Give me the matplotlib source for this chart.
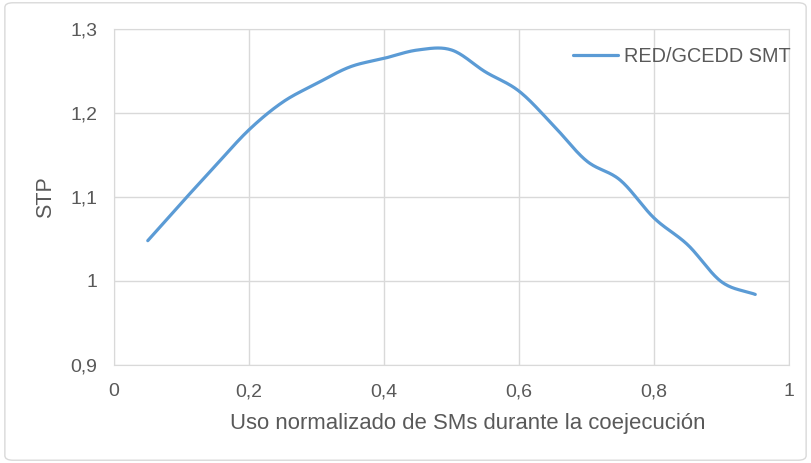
import numpy as np
import matplotlib
matplotlib.use("Agg")
import matplotlib.pyplot as plt
from matplotlib.patches import FancyBboxPatch

plt.rcParams['font.family'] = ['Liberation Sans', 'DejaVu Sans']

# Data
x_vals = [0.05, 0.10, 0.15, 0.20, 0.25, 0.30, 0.35, 0.40, 0.45, 0.50,
          0.55, 0.60, 0.65, 0.70, 0.75, 0.80, 0.85, 0.90, 0.95]
stp_vals = [1.048, 1.093, 1.137, 1.180, 1.213, 1.235, 1.255, 1.265, 1.275, 1.275,
            1.249, 1.226, 1.186, 1.143, 1.120, 1.075, 1.043, 0.999, 0.984]
series_name = "RED/GCEDD SMT"
x_ticks = [0, 0.2, 0.4, 0.6, 0.8, 1]
x_tick_labels = ["0", "0,2", "0,4", "0,6", "0,8", "1"]
y_ticks = [0.9, 1.0, 1.1, 1.2, 1.3]
y_tick_labels = ["0,9", "1", "1,1", "1,2", "1,3"]
x_label = "Uso normalizado de SMs durante la coejecución"
y_label = "STP"


def smooth(xs, ys, n=30):
    # Catmull-Rom style smoothing for drawing (Excel "smoothed line")
    xs = np.asarray(xs, float)
    ys = np.asarray(ys, float)
    px = np.concatenate([[2 * xs[0] - xs[1]], xs, [2 * xs[-1] - xs[-2]]])
    py = np.concatenate([[2 * ys[0] - ys[1]], ys, [2 * ys[-1] - ys[-2]]])
    ox, oy = [], []
    t = np.linspace(0, 1, n, endpoint=False)
    for i in range(1, len(px) - 2):
        p0, p1, p2, p3 = (np.array([px[j], py[j]]) for j in (i - 1, i, i + 1, i + 2))
        c1 = p1 + (p2 - p0) / 6
        c2 = p2 - (p3 - p1) / 6
        pts = ((1 - t) ** 3)[:, None] * p1 + (3 * (1 - t) ** 2 * t)[:, None] * c1 \
            + (3 * (1 - t) * t ** 2)[:, None] * c2 + (t ** 3)[:, None] * p2
        ox.extend(pts[:, 0]); oy.extend(pts[:, 1])
    ox.append(xs[-1]); oy.append(ys[-1])
    return np.array(ox), np.array(oy)


fig = plt.figure(figsize=(8.11, 4.63), dpi=100)
fig.patch.set_facecolor('white')
border = FancyBboxPatch((0.006, 0.006), 0.988, 0.988, boxstyle="round,pad=0,rounding_size=0.01",
                        transform=fig.transFigure, fill=False, edgecolor='#d9d9d9', lw=1.0)
fig.patches.append(border)

ax = fig.add_axes([0.1406, 0.2117, 0.8323, 0.7257])
sx, sy = smooth(x_vals, stp_vals)
ax.plot(sx, sy, color='#5b9bd5', lw=2.3, label=series_name, solid_capstyle='round')

ax.set_xlim(0, 1)
ax.set_ylim(0.9, 1.3)
ax.set_xticks(x_ticks)
ax.set_xticklabels(x_tick_labels)
ax.set_yticks(y_ticks)
ax.set_yticklabels(y_tick_labels)
ax.grid(True, color='#d9d9d9', lw=1.0)
ax.set_axisbelow(True)
for s in ax.spines.values():
    s.set_color('#d9d9d9')
ax.tick_params(length=0, labelsize=14, colors='#595959')
ax.tick_params(axis='x', pad=13)
ax.tick_params(axis='y', pad=12)
ax.set_xlabel(x_label, fontsize=15.9, color='#595959')
ax.xaxis.set_label_coords(0.5244, -0.143)
ax.set_ylabel(y_label, fontsize=15.5, color='#595959', labelpad=10)

leg = ax.legend(loc='upper right', frameon=False, fontsize=14.3, handlelength=2.25,
                handletextpad=0.3, labelcolor='#595959', borderaxespad=0, borderpad=0,
                bbox_to_anchor=(1.002, 0.9455))

fig.savefig('out.png', dpi=100, facecolor='white')
